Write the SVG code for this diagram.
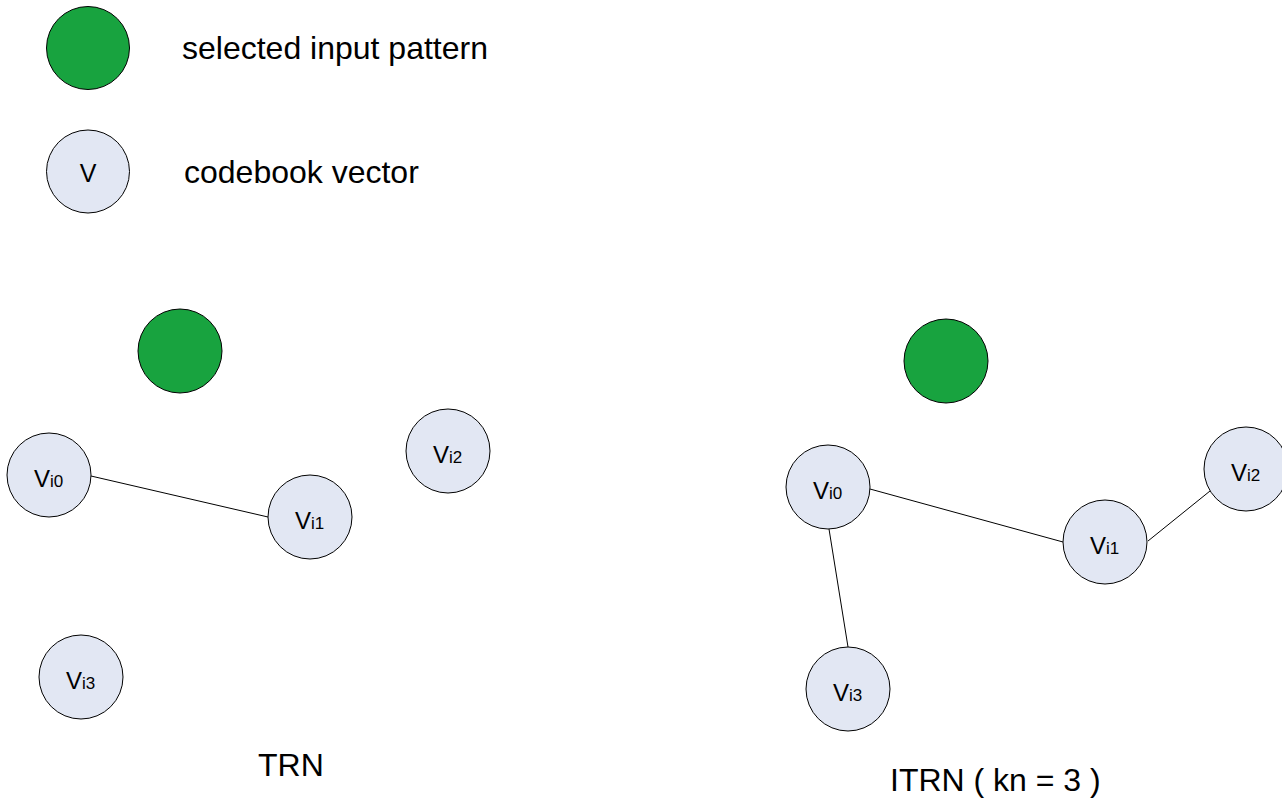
<svg xmlns="http://www.w3.org/2000/svg" width="1282" height="803" viewBox="0 0 1282 803">
<style>
.g{fill:#18a33f;stroke:#000;stroke-width:1}
.v{fill:#e2e7f3;stroke:#000;stroke-width:1}
.t{font-family:"Liberation Sans",Arial,sans-serif;fill:#000}
.lbl{font-size:32px}
.V{font-size:24px}
.s{font-size:17px}
.e{stroke:#000;stroke-width:1;fill:none}
</style>
<rect width="1282" height="803" fill="#fff"/>
<g id="legend-input">
<circle class="g" cx="88" cy="48" r="41.5"/>
<text class="t lbl" x="182" y="59">selected input pattern</text>
</g>
<g id="legend-codebook">
<circle class="v" cx="88" cy="171.5" r="41.5"/>
<text class="t" x="88" y="182" text-anchor="middle" font-size="25">V</text>
<text class="t lbl" x="184" y="183">codebook vector</text>
</g>
<g id="connectors">
<line class="e" x1="91" y1="476" x2="268" y2="517"/>
<line class="e" x1="870" y1="489" x2="1063" y2="542"/>
<line class="e" x1="1148" y1="541" x2="1210" y2="491"/>
<line class="e" x1="829" y1="529" x2="848" y2="647"/>
</g>
<g id="trn-input"><circle class="g" cx="180" cy="351" r="42"/></g>
<g id="trn-vi0"><circle class="v" cx="49" cy="475" r="42"/><text class="t" x="34" y="487"><tspan class="V">V</tspan><tspan class="s">i0</tspan></text></g>
<g id="trn-vi1"><circle class="v" cx="310" cy="517" r="42"/><text class="t" x="295" y="529"><tspan class="V">V</tspan><tspan class="s">i1</tspan></text></g>
<g id="trn-vi2"><circle class="v" cx="448" cy="451" r="42"/><text class="t" x="433" y="463"><tspan class="V">V</tspan><tspan class="s">i2</tspan></text></g>
<g id="trn-vi3"><circle class="v" cx="81" cy="677" r="42"/><text class="t" x="66" y="689"><tspan class="V">V</tspan><tspan class="s">i3</tspan></text></g>
<g id="trn-label"><text class="t lbl" x="258" y="776">TRN</text></g>
<g id="itrn-input"><circle class="g" cx="946" cy="361" r="42"/></g>
<g id="itrn-vi0"><circle class="v" cx="828" cy="487" r="42"/><text class="t" x="813" y="499"><tspan class="V">V</tspan><tspan class="s">i0</tspan></text></g>
<g id="itrn-vi1"><circle class="v" cx="1105" cy="542" r="42"/><text class="t" x="1090" y="554"><tspan class="V">V</tspan><tspan class="s">i1</tspan></text></g>
<g id="itrn-vi2"><circle class="v" cx="1246" cy="469" r="42"/><text class="t" x="1231" y="481"><tspan class="V">V</tspan><tspan class="s">i2</tspan></text></g>
<g id="itrn-vi3"><circle class="v" cx="848" cy="689" r="42"/><text class="t" x="833" y="701"><tspan class="V">V</tspan><tspan class="s">i3</tspan></text></g>
<g id="itrn-label"><text class="t lbl" x="890" y="791">ITRN ( kn = 3 )</text></g>
</svg>
